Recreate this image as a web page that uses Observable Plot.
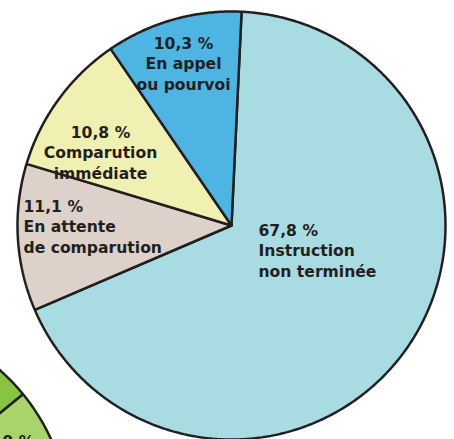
<!DOCTYPE html>
<html><head><meta charset="utf-8">
<script src="https://cdn.jsdelivr.net/npm/d3@7"></script>
<script src="https://cdn.jsdelivr.net/npm/@observablehq/plot@0.6"></script>
<style>html,body{margin:0;padding:0;background:#fff;overflow:hidden}svg{overflow:hidden}svg text{font-variant-ligatures:none}</style>
</head><body><div id="chart"></div>
<script>
// Data
const categories = ["Instruction non terminée", "En attente de comparution", "Comparution immédiate", "En appel ou pourvoi"];
const values = [67.8, 11.1, 10.8, 10.3];
const valueLabels = ["67,8 %", "11,1 %", "10,8 %", "10,3 %"];
const nameLabels = ["Instruction\nnon terminée", "En attente\nde comparution", "Comparution\nimmédiate", "En appel\nou pourvoi"];
const colors = ["#a9dce2", "#ddd1c9", "#f1f0b3", "#4eb4e1"];

// partially visible neighbouring pie (bottom-left corner)
const greenCategories = ["Autre A", "Autre B"];
const greenValues = [14.1, 8.9];
const greenLabels = ["", "8,9 %"];
const greenColors = ["#87c443", "#a9d46b"];

// Layout (pixel-derived, unit = main radius)
const W = 454, H = 439, R = 214;
const main = {cx: 0, cy: 0, r: 1, start: 2.7};
const green = {cx: (-137 - 231) / R, cy: (225 - 524) / R, r: 206 / R, start: 0};
const px = (x) => (x - 231) / R;
const py = (y) => (225 - y) / R;
const labelLayout = [
  {x: px(258), y: py(249), anchor: "start"},
  {x: px(23), y: py(225), anchor: "start"},
  {x: px(100), y: py(151), anchor: "middle"},
  {x: px(183), y: py(62), anchor: "middle"}
];
const greenLabelLayout = [null, {x: px(34), y: py(440), anchor: "end"}];

function slices(pie, cats, vals) {
  const arcs = d3.pie().sort(null)
    .startAngle(pie.start * Math.PI / 180)
    .endAngle(pie.start * Math.PI / 180 + 2 * Math.PI)(vals);
  const rows = [];
  arcs.forEach((a, i) => {
    const key = cats[i];
    if (key === undefined) return;
    const pts = [[pie.cx, pie.cy]];
    const n = Math.max(2, Math.ceil((a.endAngle - a.startAngle) / (Math.PI / 360)));
    for (let k = 0; k <= n; k++) {
      const t = a.startAngle + (a.endAngle - a.startAngle) * k / n;
      pts.push([pie.cx + pie.r * Math.sin(t), pie.cy + pie.r * Math.cos(t)]);
    }
    pts.push([pie.cx, pie.cy]);
    pts.forEach(([u, v]) => rows.push({key, u, v}));
  });
  return rows;
}

const rows = [
  ...slices(green, greenCategories, greenValues.concat([100 - greenValues[0] - greenValues[1]])),
  ...slices(main, categories, values)
];

const labels = categories.map((c, i) => ({
  text: valueLabels[i] + "\n" + nameLabels[i], ...labelLayout[i]
}));
const gLabels = greenCategories.map((c, i) => ({text: greenLabels[i], ...(greenLabelLayout[i] || {x: 0, y: 0, anchor: "start"})}))
  .filter(d => d.text);

const textOpts = {fontFamily: "DejaVu Sans", fontWeight: "bold", fontSize: 15.6, lineHeight: 1.32, fill: "#231f20", lineAnchor: "middle"};

const chart = Plot.plot({
  width: W, height: H, margin: 0,
  x: {domain: [-231 / R, (W - 231) / R], axis: null},
  y: {domain: [-(H - 225) / R, 225 / R], axis: null},
  color: {domain: [...categories, ...greenCategories], range: [...colors, ...greenColors]},
  style: {background: "white", overflow: "hidden"},
  marks: [
    Plot.line(rows, {x: "u", y: "v", z: "key", fill: "key", stroke: "#231f20", strokeWidth: 2.5, strokeLinejoin: "miter", clip: true}),
    Plot.text(labels.filter(d => d.anchor === "start"), {x: "x", y: "y", text: "text", textAnchor: "start", ...textOpts}),
    Plot.text(labels.filter(d => d.anchor === "middle"), {x: "x", y: "y", text: "text", textAnchor: "middle", ...textOpts}),
    Plot.text(gLabels, {x: "x", y: "y", text: "text", textAnchor: "end", ...textOpts, clip: true})
  ]
});
document.getElementById("chart").appendChild(chart);
</script>
</body></html>
